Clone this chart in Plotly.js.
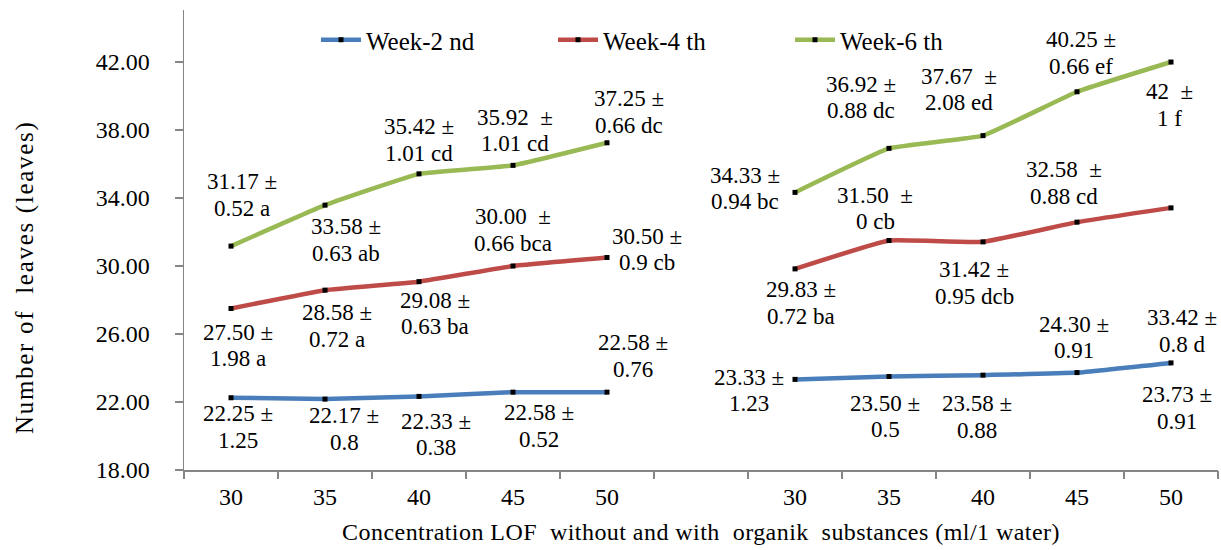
<!DOCTYPE html>
<html>
<head>
<meta charset="utf-8">
<script src="https://cdn.plot.ly/plotly-3.0.1.min.js"></script>
<style>html,body{margin:0;padding:0;background:#fff;}#chart{width:1221px;height:550px;}</style>
</head>
<body>
<div id="chart"></div>
<script>
// ---- data ----
const xLabels = ["30","35","40","45","50","","30","35","40","45","50"];
const seriesNames = ["Week-2 nd","Week-4 th","Week-6 th"];
const week2 = [22.25,22.17,22.33,22.58,22.58,null,23.33,23.50,23.58,23.73,24.30];
const week4 = [27.50,28.58,29.08,30.00,30.50,null,29.83,31.50,31.42,32.58,33.42];
const week6 = [31.17,33.58,35.42,35.92,37.25,null,34.33,36.92,37.67,40.25,42.00];
const week2Labels = [["22.25 ±","1.25"],["22.17 ±","0.8"],["22.33 ±","0.38"],["22.58 ±","0.52"],["22.58 ±","0.76"],null,["23.33 ±","1.23"],["23.50 ±","0.5"],["23.58 ±","0.88"],["24.30 ±","0.91"],["23.73 ±","0.91"]];
const week4Labels = [["27.50 ±","1.98 a"],["28.58 ±","0.72 a"],["29.08 ±","0.63 ba"],["30.00\u00a0\u00a0±","0.66 bca"],["30.50 ±","0.9 cb"],null,["29.83 ±","0.72 ba"],["31.50\u00a0\u00a0±","0 cb"],["31.42 ±","0.95 dcb"],["32.58\u00a0\u00a0±","0.88 cd"],["33.42 ±","0.8 d"]];
const week6Labels = [["31.17 ±","0.52 a"],["33.58 ±","0.63 ab"],["35.42 ±","1.01 cd"],["35.92\u00a0\u00a0±","1.01 cd"],["37.25 ±","0.66 dc"],null,["34.33 ±","0.94 bc"],["36.92 ±","0.88 dc"],["37.67\u00a0\u00a0±","2.08 ed"],["40.25 ±","0.66 ef"],["42\u00a0\u00a0±","1 f"]];
const yTitle = "Number of\u00a0 leaves (leaves)";
const xTitle = "Concentration LOF\u00a0 without and with\u00a0 organik\u00a0 substances (ml/1 water)";

// ---- label placement (pixel offsets of label block centre from its point) ----
const off2 = [[7,29],[19,30],[17,38],[26,34],[26,-36],null,[-46,11],[-4,40],[-6,42],[-3,-35],[6,45]];
const off4 = [[7,37],[12,36],[16,32],[0,-36],[40,-8],null,[6,34],[-14,-32],[-9,41],[-13,-39],[11,123]];
const off6 = [[11,-51],[21,35],[0,-34],[2,-35],[22,-31],null,[-50,-4],[-28,-51],[-24,-46],[4,-39],[-2,43]];

const colors = ["#4A7EBB","#BE4B48","#98B954"];
const font = "Liberation Serif";
const xIdx = xLabels.map((_, i) => i);

const seriesVals = [week2, week4, week6];
const traces = seriesVals.map((vals, k) => ({
  type: "scatter", mode: "lines+markers", name: seriesNames[k],
  x: xIdx, y: vals, connectgaps: false,
  line: {color: colors[k], width: 4.5, shape: "spline", smoothing: 0.3},
  marker: {symbol: "square", size: 5, color: "#000", line: {width: 0}}
}));

const annotations = [];
const halfGap = 13.25;
[[week2, week2Labels, off2],[week4, week4Labels, off4],[week6, week6Labels, off6]].forEach(([vals, labs, offs]) => {
  vals.forEach((v, i) => {
    if (v === null) return;
    const [dx, dy] = offs[i];
    labs[i].forEach((line, j) => {
      annotations.push({
        x: i, y: v, xref: "x", yref: "y", text: line, showarrow: false,
        xshift: dx, yshift: -(dy + (j === 0 ? -halfGap : halfGap)),
        xanchor: "center", yanchor: "middle",
        font: {family: font, size: 23, color: "#000"}
      });
    });
  });
});
annotations.push({
  xref: "paper", yref: "paper", x: (25 - 184) / 1034, y: (470 - 277) / 460,
  text: '<span style="letter-spacing:1.7px">' + yTitle + '</span>', textangle: -90, showarrow: false,
  xanchor: "center", yanchor: "middle",
  font: {family: font, size: 25, color: "#000"}
});

const boundaries = [];
for (let i = 0; i <= xLabels.length; i++) boundaries.push(i - 0.5);

const layout = {
  width: 1221, height: 550,
  margin: {l: 184, r: 3, t: 10, b: 80},
  paper_bgcolor: "#fff", plot_bgcolor: "#fff",
  font: {family: font, size: 24, color: "#000"},
  showlegend: true,
  legend: {orientation: "h", x: (316 - 184) / 1034, y: (470 - 40) / 460, xanchor: "left", yanchor: "middle",
           font: {family: font, size: 25, color: "#000"}, entrywidth: 182, entrywidthmode: "pixels",
           bgcolor: "rgba(0,0,0,0)", itemwidth: 40},
  xaxis: {
    range: [-0.5, xLabels.length - 0.5], showgrid: false, zeroline: false,
    tickmode: "array", tickvals: xIdx.filter(i => xLabels[i] !== ""), ticktext: xLabels.filter(t => t !== ""),
    ticks: "", showline: true, linecolor: "#868686", linewidth: 2,
    tickfont: {family: font, size: 24, color: "#000"}, ticklabelstandoff: 4,
    title: {text: '<span style="letter-spacing:0.45px">' + xTitle + '</span>', font: {family: font, size: 24, color: "#000"}, standoff: 14}
  },
  xaxis2: {
    overlaying: "x", anchor: "y", side: "bottom", range: [-0.5, xLabels.length - 0.5],
    tickmode: "array", tickvals: boundaries, ticks: "outside", ticklen: 8, tickwidth: 1.5, tickcolor: "#868686",
    showticklabels: false, showgrid: false, zeroline: false, showline: false
  },
  yaxis: {
    range: [18, 45.06], dtick: 4, tick0: 18, tickformat: ".2f", showgrid: false, zeroline: false,
    ticks: "outside", ticklen: 8, tickcolor: "#868686", tickwidth: 1.5,
    showline: true, linecolor: "#868686", linewidth: 1.5,
    tickfont: {family: font, size: 24, color: "#000"}, ticklabelstandoff: 20
  },
  annotations: annotations
};

// invisible trace to activate the tick overlay axis
traces.push({type: "scatter", x: [0], y: [null], xaxis: "x2", yaxis: "y", showlegend: false, hoverinfo: "skip"});

Plotly.newPlot("chart", traces, layout, {displayModeBar: false, staticPlot: true});
</script>
</body>
</html>
